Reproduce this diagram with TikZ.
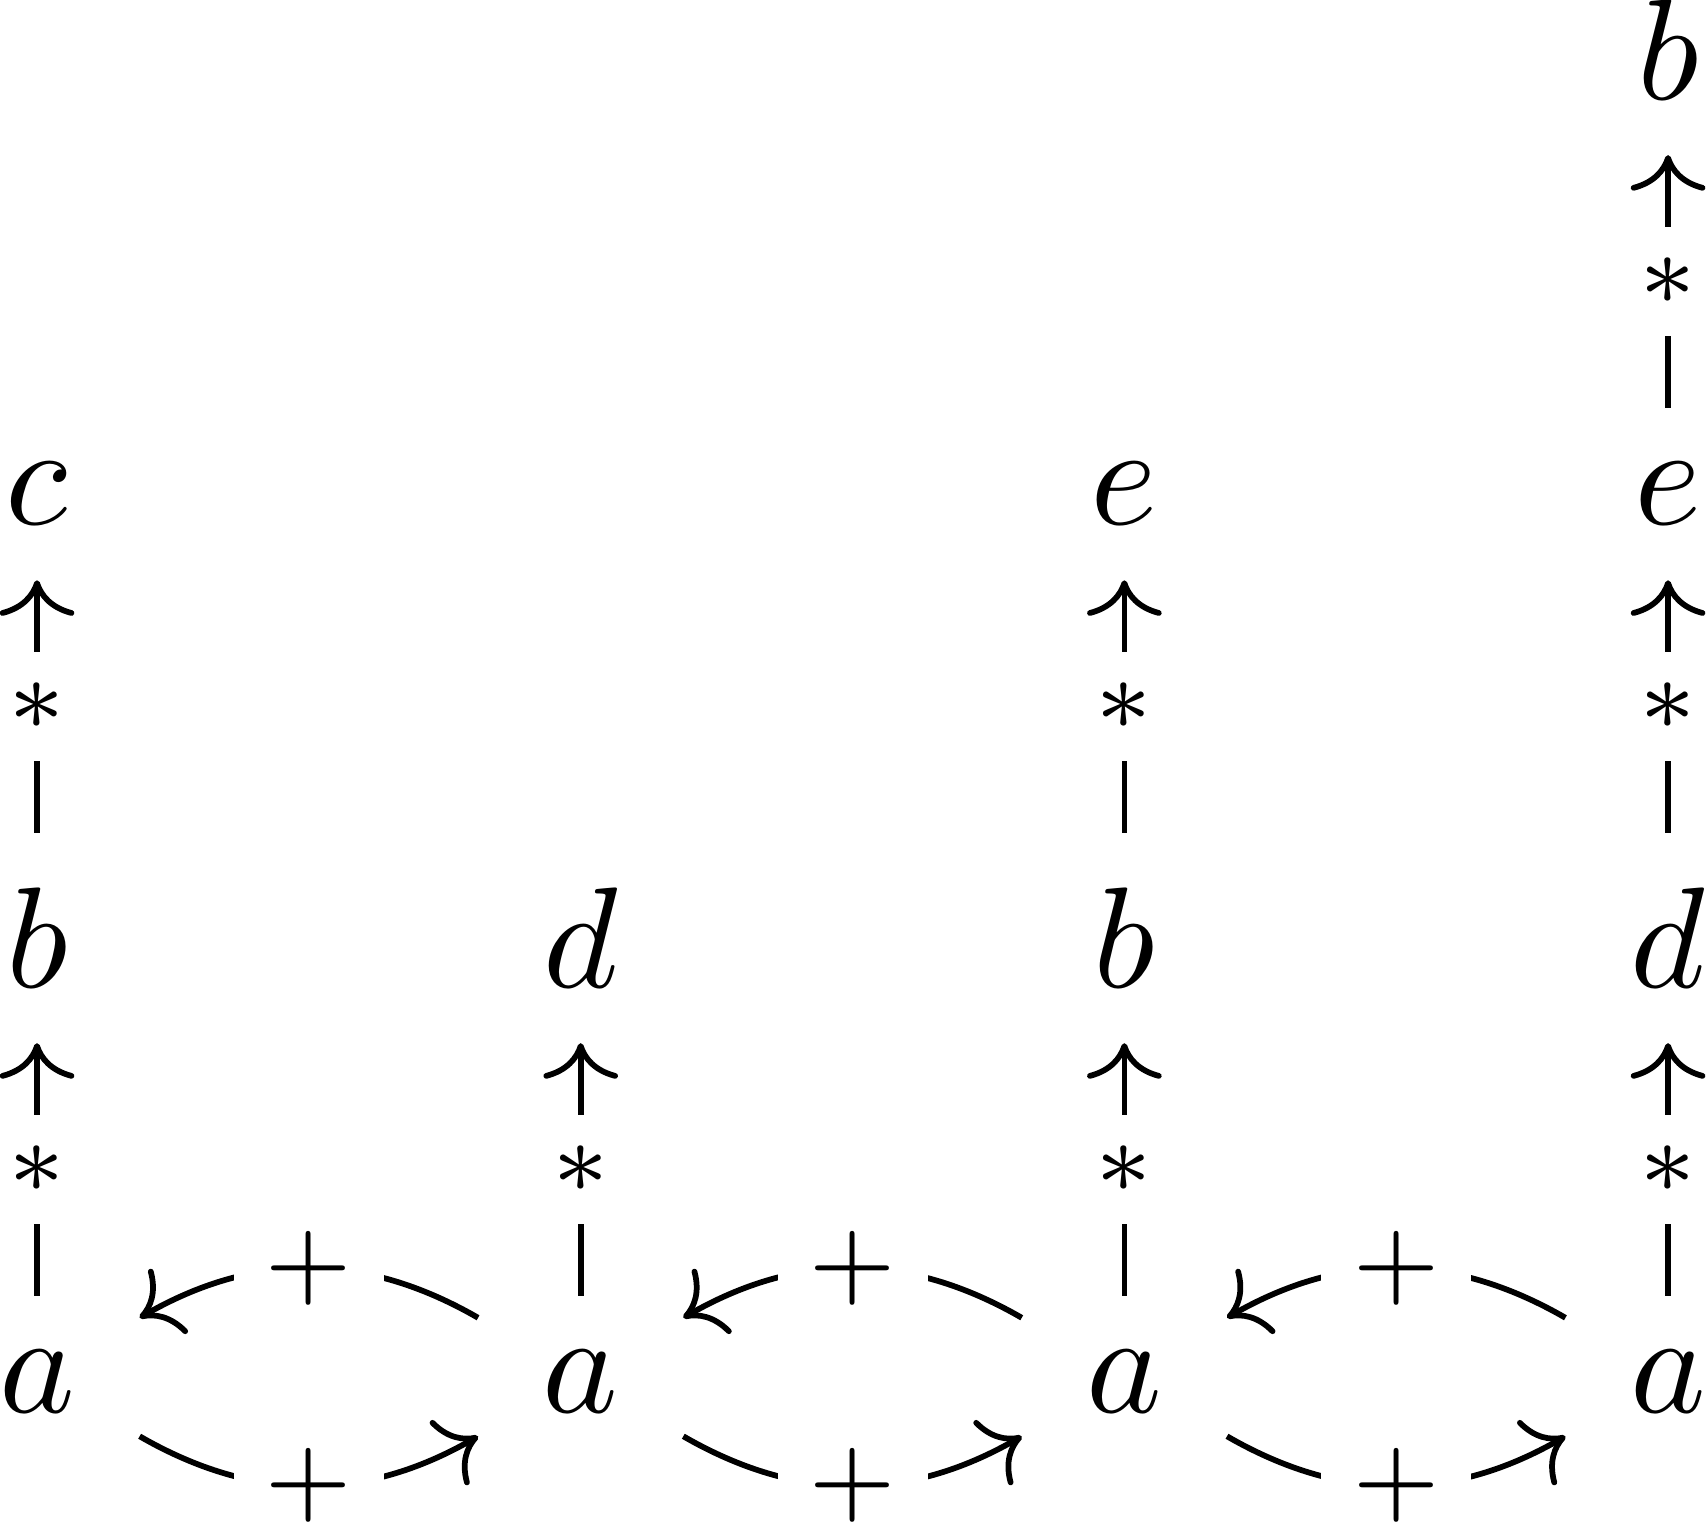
\documentclass[tikz,border=0pt]{standalone}
\usetikzlibrary{cd}
\begin{document}
\begin{tikzpicture}[
  obj/.style={shape=asymmetrical rectangle, inner xsep=1ex, inner ysep=0.85ex, anchor=base},
  lab/.style={shape=rectangle, anchor=center, fill=white, inner sep=0.5ex},
  arr/.style={draw, line width=0.4pt, -{cm to}},
]
\useasboundingbox (0pt,0pt) rectangle (119.03pt,-106.2pt);
% columns
\def\ca{2.58pt}\def\cb{40.47pt}\def\cc{78.36pt}\def\cd{116.25pt}
% rows (baselines)
\def\ra{-98.47pt}\def\rb{-68.84pt}\def\rc{-36.58pt}\def\rd{-6.95pt}
\node[obj] (a1) at (\ca,\ra) {$a$};
\node[obj] (a2) at (\cb,\ra) {$a$};
\node[obj] (a3) at (\cc,\ra) {$a$};
\node[obj] (a4) at (\cd,\ra) {$a$};
\node[obj] (b1) at (\ca,\rb) {$b$};
\node[obj] (d2) at (\cb,\rb) {$d$};
\node[obj] (b3) at (\cc,\rb) {$b$};
\node[obj] (d4) at (\cd,\rb) {$d$};
\node[obj] (c1) at (\ca,\rc) {$c$};
\node[obj] (e3) at (\cc,\rc) {$e$};
\node[obj] (e4) at (\cd,\rc) {$e$};
\node[obj] (b4) at (\cd,\rd) {$b$};
% vertical arrows
\draw[arr] (a1) -- node[lab] {$\scriptstyle *$} (b1);
\draw[arr] (b1) -- node[lab] {$\scriptstyle *$} (c1);
\draw[arr] (a2) -- node[lab] {$\scriptstyle *$} (d2);
\draw[arr] (a3) -- node[lab] {$\scriptstyle *$} (b3);
\draw[arr] (b3) -- node[lab] {$\scriptstyle *$} (e3);
\draw[arr] (a4) -- node[lab] {$\scriptstyle *$} (d4);
\draw[arr] (d4) -- node[lab] {$\scriptstyle *$} (e4);
\draw[arr] (e4) -- node[lab] {$\scriptstyle *$} (b4);
% curved arrows
\draw[arr] (a2) to[bend right=30] node[lab] {$\scriptstyle +$} (a1);
\draw[arr] (a1) to[bend right=30] node[lab] {$\scriptstyle +$} (a2);
\draw[arr] (a3) to[bend right=30] node[lab] {$\scriptstyle +$} (a2);
\draw[arr] (a2) to[bend right=30] node[lab] {$\scriptstyle +$} (a3);
\draw[arr] (a4) to[bend right=30] node[lab] {$\scriptstyle +$} (a3);
\draw[arr] (a3) to[bend right=30] node[lab] {$\scriptstyle +$} (a4);
\end{tikzpicture}
\end{document}
